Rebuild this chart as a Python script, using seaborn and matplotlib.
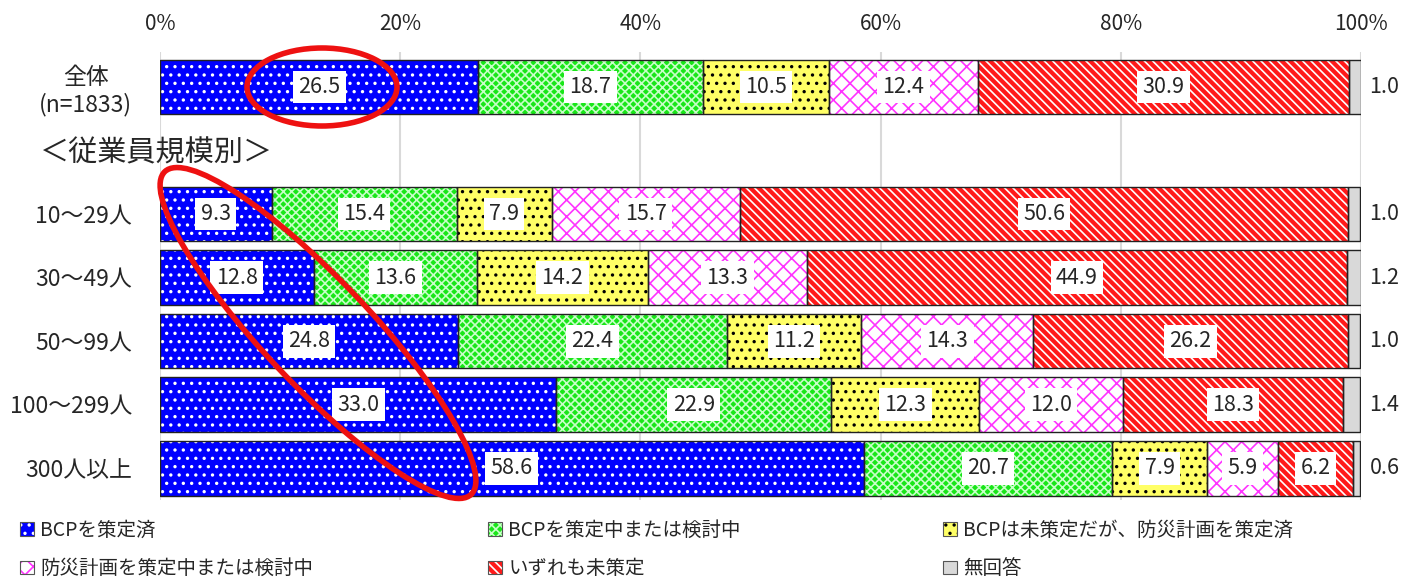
import numpy as np
import matplotlib
matplotlib.use("Agg")
import matplotlib.pyplot as plt
import seaborn as sns
from matplotlib.patches import Patch, Ellipse
from matplotlib.legend_handler import HandlerTuple

# data (percent)
rows = ["全体\n(n=1833)", "10～29人", "30～49人", "50～99人", "100～299人", "300人以上"]
series = ["BCPを策定済", "BCPを策定中または検討中", "BCPは未策定だが、防災計画を策定済",
          "防災計画を策定中または検討中", "いずれも未策定", "無回答"]
bcp_done = [26.5, 9.3, 12.8, 24.8, 33.0, 58.6]
bcp_wip = [18.7, 15.4, 13.6, 22.4, 22.9, 20.7]
plan_done = [10.5, 7.9, 14.2, 11.2, 12.3, 7.9]
plan_wip = [12.4, 15.7, 13.3, 14.3, 12.0, 5.9]
none_done = [30.9, 50.6, 44.9, 26.2, 18.3, 6.2]
no_answer = [1.0, 1.0, 1.2, 1.0, 1.4, 0.6]
values = [bcp_done, bcp_wip, plan_done, plan_wip, none_done, no_answer]

# face colour, hatch colour, hatch
styles = [("#0000ff", "white", ".."),
          ("#19e619", "#c8ffc8", "xxxx"),
          ("#ffff66", "black", ".."),
          ("white", "#ff33ff", "xx"),
          ("#ff1a1a", "white", "\\\\\\\\"),
          ("#d9d9d9", "#d9d9d9", "")]

sns.set_theme(style="white")
plt.rcParams["font.family"] = ["Noto Sans CJK JP", "DejaVu Sans"]
plt.rcParams["hatch.linewidth"] = 1.2

fig = plt.figure(figsize=(14.05, 5.81), dpi=100)
ax = fig.add_axes([160 / 1405, 1 - 500 / 581, 1201 / 1405, 448 / 581])

ypos = np.array([0, 2, 3, 4, 5, 6])
h = 0.86
left = np.zeros(len(rows))
for vals, (fc, hc, hatch) in zip(values, styles):
    vals = np.array(vals)
    ax.barh(ypos, vals, left=left, height=h, color=fc, edgecolor=hc,
            hatch=hatch, linewidth=0, zorder=2)
    ax.barh(ypos, vals, left=left, height=h, fill=False,
            edgecolor="#222222", linewidth=1, zorder=3)
    left += vals

# value labels
left = np.zeros(len(rows))
for k, vals in enumerate(values):
    for i, v in enumerate(vals):
        if k < 5:
            ax.text(left[i] + v / 2, ypos[i], f"{v:.1f}", ha="center", va="center",
                    fontsize=15.5, zorder=5,
                    bbox=dict(boxstyle="square,pad=0.25", fc="white", ec="none"))
        else:
            ax.text(100.7, ypos[i], f"{v:.1f}", ha="left", va="center",
                    fontsize=15.5, zorder=5)
    left += np.array(vals)

ax.set_xlim(0, 100)
ax.set_ylim(6.5, -0.55)
ax.xaxis.tick_top()
ax.set_xticks(np.arange(0, 101, 20))
ax.set_xticklabels([f"{t}%" for t in range(0, 101, 20)], fontsize=15)
ax.set_yticks(ypos)
ax.set_yticklabels(rows, fontsize=16.5, multialignment="center")
ax.tick_params(axis="both", length=0)
ax.tick_params(axis="x", pad=12)
ax.tick_params(axis="y", pad=20)
ax.grid(axis="x", color="#d9d9d9", linewidth=1.5, zorder=0)
ax.grid(axis="y", visible=False)
sns.despine(ax=ax, left=True, bottom=True, top=True, right=True)

fig.text(40 / 1405, 1 - 153 / 581, "＜従業員規模別＞", fontsize=21, va="center", ha="left")

# red ellipses (highlight marks), placed in inches on the figure
tr = fig.dpi_scale_trans
ax.add_patch(Ellipse((3.22, 5.81 - 0.87), 1.50, 0.78, angle=0, fill=False,
                     ec="#ee1111", lw=4, transform=tr, clip_on=False, zorder=6))
ax.add_patch(Ellipse((3.18, 5.81 - 3.33), 4.45, 1.06, angle=-46.5, fill=False,
                     ec="#ee1111", lw=4, transform=tr, clip_on=False, zorder=6))

# legend, three columns placed separately
handles = [(Patch(facecolor=fc, edgecolor=hc, hatch=hatch, linewidth=0),
            Patch(fill=False, edgecolor="#555555", linewidth=0.8))
           for fc, hc, hatch in styles]
cols = [(0, 3), (1, 4), (2, 5)]
xs = [20 / 1405, 488 / 1405, 943 / 1405]
for (a, b), x in zip(cols, xs):
    fig.legend([handles[a], handles[b]], [series[a], series[b]],
               handler_map={tuple: HandlerTuple(ndivide=1, pad=0)},
               loc="center left", bbox_to_anchor=(x, 1 - 549.5 / 581),
               frameon=False, fontsize=14, handlelength=0.7, handleheight=0.7,
               handletextpad=0.35, labelspacing=0.9, borderpad=0, borderaxespad=0)

fig.savefig("out.png", dpi=100)
